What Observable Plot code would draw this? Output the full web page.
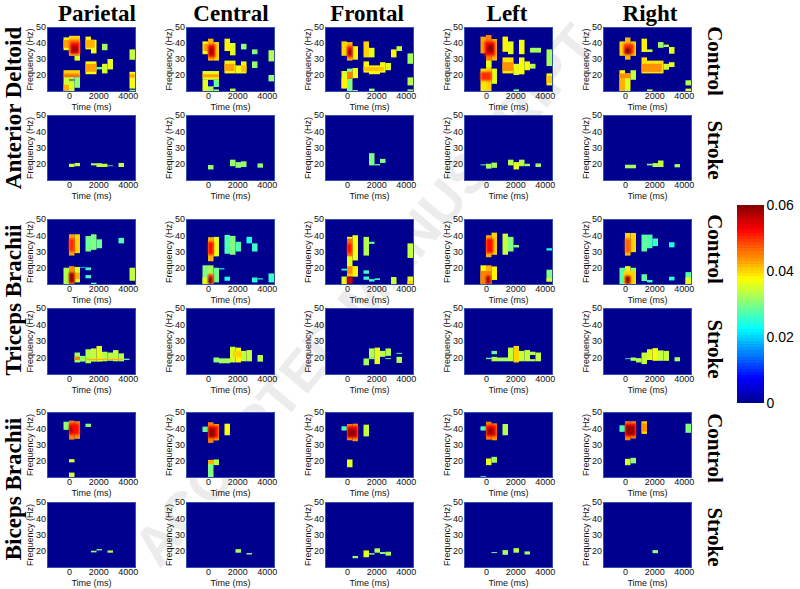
<!DOCTYPE html>
<html><head><meta charset="utf-8">
<script src="https://cdn.jsdelivr.net/npm/d3@7"></script>
<script src="https://cdn.jsdelivr.net/npm/@observablehq/plot@0.6"></script>
<style>
html,body{margin:0;padding:0;background:#fff;overflow:hidden}
#c{position:relative;width:800px;height:589px;overflow:hidden}
#c>svg,#c>div{position:absolute}
.t{font-family:"Liberation Serif";font-weight:bold;color:#000;white-space:nowrap;line-height:1}
.wm{font-family:"Liberation Sans";font-weight:bold;color:#ececec;white-space:nowrap;font-size:55px}
</style></head><body><div id="c"></div>
<script>
// Each entry: [time start ms, time end ms, freq low Hz, freq high Hz, value]
const columns=["Parietal","Central","Frontal","Left","Right"];
const muscles=["Anterior Deltoid","Triceps Brachii","Biceps Brachii"];
const groups=["Control","Stroke"];
const timeTicks=[0,2000,4000], freqTicks=[20,30,40,50], barTicks=[0,0.02,0.04,0.06];
const jetColors=["#00008f","#0000ff","#00ffff","#ffff00","#ff0000","#800000"];
const jetStops=[0,0.0075,0.0225,0.0375,0.0525,0.06];

const adCtlParietal=[[-375,0,35.5,43.5,.037],[-375,0,37,42,.043],[0,750,32,44.5,.04],[375,750,29,32,.036],[0,750,33,42,.047],[100,700,33,40,.053],[150,600,34,38,.058],
[1125,1500,36,44,.038],[1500,1875,33.5,42,.037],[1125,1750,37,42,.042],[2250,2625,35.5,39.5,.032],[4125,4500,29.5,36,.034],
[1125,1875,20.5,28.5,.037],[1125,1875,22,27,.043],[1875,2250,23.5,25,.028],[2250,2625,21,27,.035],[2625,3000,23.5,30,.036],
[-375,750,19,23,.04],[-375,750,19,20.5,.048],[-375,375,10,19,.035],[375,750,12,19,.031],[-375,0,10,14,.042],[0,375,16.5,17.3,.012],
[4125,4500,11.5,22,.037],[4125,4500,19,20,.05],[4125,4500,10,10.8,.03]];
const adCtlCentral=[[-375,0,33,41,.037],[0,375,29,42.7,.042],[375,750,29,40.6,.04],[-300,0,35,39.5,.043],[0,500,31,39,.053],[100,350,33,37,.059],
[1125,1500,35,42.7,.038],[1500,1875,32.3,40,.036],[2250,2625,36,39.5,.031],[3000,3375,33,36,.03],[4125,4500,28.5,35.5,.033],[3000,3375,24.4,28.5,.031],
[1125,1875,21,29,.038],[1125,1800,22.5,27,.043],[1875,2250,21,26,.037],[2250,2625,21,28.5,.036],[2250,2625,22,26,.041],[4125,4500,16,20,.031],
[-375,750,17,22.5,.036],[-375,750,18.5,20.5,.043],[-375,0,10,17,.036],[375,750,12.5,17,.029],[0,375,10,13,.033],[0,375,13,15.7,.005],[375,750,10,11,.031],[1500,1875,10,11.5,.034]];
const adCtlFrontal=[[-375,0,32,41,.04],[0,375,29,40.6,.042],[375,750,29.6,38,.038],[0,375,31,38,.052],[50,330,32.5,36,.059],
[1125,1500,31,41,.04],[1500,1875,31,37,.036],[3000,3375,31,36,.038],[3375,3750,35,38,.034],[4125,4500,27,33.5,.032],
[1125,1500,21.5,28.5,.038],[1500,2250,20.5,26,.038],[2250,2625,21.5,28,.037],[2625,3000,23,27.5,.036],[1125,2500,22.5,25,.041],
[-375,0,11.5,22.5,.036],[0,375,10,24,.03],[375,750,18,24.4,.037],[0,375,17.5,22,.045],[-375,0,12,18,.038],
[1500,1875,10,11.5,.031],[4125,4500,13.5,18.5,.033],[4125,4500,10,11,.032],[375,750,10,10.6,.03]];
const adCtlLeft=[[-375,0,33.5,44,.043],[0,375,27,45,.045],[375,750,29,42.5,.042],[-100,620,32,41,.052],[100,500,34,39,.059],
[-375,0,10,24,.039],[0,375,10,26,.04],[375,750,14.5,24,.036],[-375,375,16.5,22,.05],[0,375,25,29,.036],
[1125,1500,34.5,44,.038],[1500,1875,33,41,.036],[2250,2625,33,42,.037],[3000,3750,34,37,.032],[4125,4500,25.6,36,.032],[4125,4500,13.5,21,.036],[4125,4500,15,19.5,.041],
[1125,1875,21,31,.039],[1125,1875,22.5,28,.044],[1875,2250,20,27,.036],[2250,2625,20.4,31,.037],[2625,3000,23,28.5,.037],[3000,3375,24,27,.033],[1875,2250,10,11,.03]];
const adCtlRight=[[-375,0,32,41,.04],[0,375,29.6,43.5,.042],[375,750,32,41,.04],[-100,600,33,39.5,.05],[0,375,33,37,.059],
[1125,1500,34.4,42.7,.038],[1500,1875,34.4,36,.034],[2250,2625,37,40.6,.032],[2625,3000,37.5,39,.032],[3000,3375,33.3,37.5,.036],
[1125,1500,21,31,.039],[1500,2625,21,29,.039],[1125,2500,22,27,.044],[2625,3000,23.3,27,.035],[3000,3375,25,28,.036],
[-375,0,10,23,.038],[0,375,10,21,.036],[375,750,17,23,.034],[-375,0,10,20,.042],[-375,375,18,21,.044],
[1500,1875,10,11,.034],[4125,4500,13.5,16.7,.033],[4125,4500,10,11.5,.036]];

const adStrParietal=[[0,375,18,20,.034],[375,750,18.5,20.5,.034],[1500,2250,19,20.3,.033],[1875,2625,18,20,.034],[2625,3000,18.5,19,.028],[3375,3750,18,20.5,.034]];
const adStrCentral=[[0,375,16.5,19.2,.031],[1500,1875,18.5,22.5,.031],[1875,2250,17.5,21,.031],[2250,2625,18,21.5,.031],[3375,3750,17.6,20.2,.031]];
const adStrFrontal=[[1500,1875,19,26.5,.03],[1875,2250,19,19.8,.028],[2250,2625,20.5,23,.03]];
const adStrLeft=[[-375,0,19,19.6,.028],[0,375,17,20,.032],[375,750,17.5,20.7,.032],[1500,1875,19,22.5,.033],[1875,2250,16.5,21,.036],[2250,2625,18.5,22.5,.033],[2625,3000,18.5,20,.031],[3375,3750,18,20.2,.032]];
const adStrRight=[[0,750,17.2,19.4,.032],[1500,1875,19,20,.03],[1875,2250,18,20.4,.033],[2250,2625,18,22,.034],[3375,3750,17.8,19.8,.032]];

const tbCtlParietal=[[0,375,27.5,40.6,.043],[375,750,29,40.6,.04],[0,375,30,38,.05],
[1125,1500,30,39.5,.029],[1500,1875,31,40.6,.03],[1875,2250,32,37.5,.029],[3375,3750,35,38.4,.027],
[-375,0,10,20,.033],[0,375,10,21,.044],[375,750,11,20.5,.036],[375,750,13,17,.042],[0,375,10.5,17,.058],
[750,1125,20,20.5,.02],[1125,1500,18.5,20.2,.026],[1125,1500,13.5,15.5,.026],[1500,1875,10,10.8,.027],[4125,4500,12,20,.034]];
const tbCtlCentral=[[0,375,24,38.8,.042],[375,750,27,39,.036],[0,375,28,36,.052],
[1125,1500,28.6,40.2,.027],[1500,1875,28,39.6,.03],[1875,2250,30,36,.027],[2625,3000,35,39,.024],[3000,3375,30,35,.026],
[-375,0,10,21.5,.03],[0,375,10,21.5,.032],[375,750,11,20,.029],[-375,0,10,14,.036],[0,375,10,16,.05],[0,300,10,14,.059],[750,1125,19,19.7,.024],
[1125,1500,12,14.5,.024],[3000,3375,11,14,.025],[3375,3750,12.8,13.5,.024],[4125,4500,11,16.5,.026]];
const tbCtlFrontal=[[0,375,20,39,.036],[375,750,24.5,40,.037],[0,375,27,38,.046],[0,300,29,35,.052],
[1125,1500,27.5,39,.033],[1500,1875,34.7,36,.028],[4125,4500,26,35,.034],[-375,0,18.3,19.4,.026],
[0,750,14.5,21,.038],[0,375,16,21,.044],[-375,0,10,14.6,.036],[0,375,10,14.6,.055],
[1125,1500,16.3,18.4,.026],[1125,1500,12.6,14.6,.026],[1500,1875,11.5,13,.026],[1875,2250,12.5,13.5,.026],[3000,3375,10,14.3,.034],[4125,4500,10,14.6,.036],[4125,4500,10,12,.04]];
const tbCtlLeft=[[0,375,26.5,40,.042],[375,750,28,41.6,.04],[0,500,29,38,.052],
[1125,1500,28,41,.034],[1500,1875,30,39,.03],[1875,2250,32.5,34,.03],[4125,4500,30.6,32,.024],
[-375,0,10,21.5,.038],[0,375,10,21.5,.042],[375,750,12.5,20.8,.038],[-375,375,10,18,.045],[0,300,10,15,.058],
[4125,4500,11.5,18.8,.03],[4125,4500,11.5,13.5,.036]];
const tbCtlRight=[[0,375,27.5,41.4,.04],[375,750,29.6,41.4,.04],[0,375,29,38,.047],
[1125,1500,30,40.4,.028],[1500,1875,32,40.4,.027],[1875,2250,33.3,38,.026],[3000,3375,32.6,35.7,.024],
[-375,0,10,20,.028],[0,375,10,21,.036],[375,750,10,20,.032],[-100,700,10,18,.04],[0,375,10,15,.058],
[1125,1500,11.8,16,.028],[1500,1875,11,12.5,.026],[3000,3375,12.2,14.5,.025],[4125,4500,10,17.3,.028],[4125,4500,10,14,.036]];

const tbStrParietal=[[375,750,17,23,.032],[375,750,18.5,20.5,.045],[750,1125,17.5,21,.031],[1125,1500,16.5,25,.033],[1500,1875,17.5,25.5,.034],[1875,2250,17.5,27,.036],[2250,2625,17.7,23.5,.033],[2625,3000,18,23,.033],[3000,3375,17.7,24.5,.034],[3375,3750,17.7,22.5,.033],[3750,4125,18.5,19.3,.028],[1125,3700,18.5,19.2,.042]];
const tbStrCentral=[[375,750,17,20,.031],[750,1500,16.5,19.5,.032],[1500,1875,17,26.5,.035],[1875,2250,17,26,.037],[2250,2625,17.7,24,.034],[2625,3000,17.7,24.5,.034],[3375,3750,17.5,21.5,.033],[1700,2300,20,24,.04]];
const tbStrFrontal=[[1125,1500,15.3,19.4,.032],[1500,1875,19.8,25.5,.033],[1500,1875,19,20,.03],[1875,2250,16,26,.036],[2250,2625,20.4,24,.033],[2625,3000,21,25.5,.033],[2625,3000,19,19.6,.028],[3375,3750,16.7,20.4,.033],[3375,3750,22.2,22.8,.028]];
const tbStrLeft=[[0,375,19,19.8,.029],[375,750,22,24,.028],[375,750,17.7,20.4,.033],[750,1500,17.7,20,.032],[1500,1875,17.7,26,.034],[1875,2250,17,27,.04],[2250,2625,17.7,24,.034],[2625,3000,17.7,24.5,.034],[3000,3375,21.5,23.5,.033],[3000,3375,17.7,19,.033],[3375,3750,17.7,23,.034]];
const tbStrRight=[[0,375,19,19.5,.027],[375,750,18,20,.032],[750,1125,17,19.6,.033],[1125,1500,16,23,.034],[1500,1875,18.5,25,.036],[1875,2250,18,25.7,.037],[2250,2625,18,24.3,.034],[2625,3000,18,24,.034],[3375,3750,17.7,20.2,.032]];

const bbCtlParietal=[[-375,0,39,44,.031],[0,375,33,44.7,.045],[375,750,33.5,44.3,.044],[0,700,36,43,.052],[0,200,37,41,.059],[1125,1500,40.8,42.8,.03],[0,375,19,21,.035],[0,375,10,12.7,.035]];
const bbCtlCentral=[[-375,0,37.7,41,.028],[0,375,31,43.7,.045],[375,750,32.5,42.6,.043],[0,700,34,41.5,.052],[50,450,34.5,40,.059],[1125,1500,35.7,42.8,.037],[0,375,10,20.5,.03],[375,750,17.3,20.8,.033],[0,375,18,20.5,.042]];
const bbCtlFrontal=[[-375,0,38.6,41.2,.027],[0,375,32.6,42.6,.044],[375,750,32,42.8,.044],[0,750,34,41.5,.053],[50,600,35,39.5,.059],[1125,1500,35,42.2,.034],[0,375,16,20.8,.036]];
const bbCtlLeft=[[-375,0,38.6,41.2,.027],[0,375,33,44,.045],[375,750,32.6,43,.044],[0,700,35,42,.053],[100,500,36,40,.059],[1125,1500,35.7,42.6,.033],[0,375,17.3,21.4,.036],[375,750,18.8,22.4,.032],[-375,0,10,10.5,.026]];
const bbCtlRight=[[-375,0,37.8,41.8,.027],[0,375,32.6,44.3,.045],[375,750,33.7,44.3,.044],[0,750,35,43,.053],[50,650,36,41.5,.059],[1125,1500,36.5,44.3,.04],[1125,1500,38,43,.044],[4125,4500,37.2,42.8,.03],[0,375,17.3,21.2,.035],[375,750,18.4,21.8,.031]];

const bbStrParietal=[[1500,1875,19,20,.031],[1875,2250,20.2,21,.03],[2625,3000,18.8,20.2,.032]];
const bbStrCentral=[[1875,2250,18.8,21,.032],[2625,3000,17.7,18.6,.029]];
const bbStrFrontal=[[375,750,15.4,16.8,.031],[1125,1500,16,20.2,.036],[1500,1875,17.6,18.5,.03],[1875,2250,18.8,21.5,.033],[2250,2625,18,19.2,.03],[2625,3000,17,19.4,.033]];
const bbStrLeft=[[375,750,18.6,19.2,.028],[1125,1500,17.5,20.4,.032],[1875,2250,18.8,21.6,.033],[2625,3000,17.7,19.6,.032]];
const bbStrRight=[[1875,2250,18.5,20.4,.031]];

const panels=[
 [adCtlParietal,adCtlCentral,adCtlFrontal,adCtlLeft,adCtlRight],
 [adStrParietal,adStrCentral,adStrFrontal,adStrLeft,adStrRight],
 [tbCtlParietal,tbCtlCentral,tbCtlFrontal,tbCtlLeft,tbCtlRight],
 [tbStrParietal,tbStrCentral,tbStrFrontal,tbStrLeft,tbStrRight],
 [bbCtlParietal,bbCtlCentral,bbCtlFrontal,bbCtlLeft,bbCtlRight],
 [bbStrParietal,bbStrCentral,bbStrFrontal,bbStrLeft,bbStrRight]];

const colorOpts={type:"linear",domain:jetStops,range:jetColors,interpolate:"rgb",clamp:true};
const root=document.getElementById("c");
function place(el,l,t){el.style.left=l+"px";el.style.top=t+"px";root.appendChild(el);return el;}
function label(text,cx,cy,size,rot,cls){
  const d=document.createElement("div");d.className=cls||"t";d.textContent=text;d.style.fontSize=size+"px";
  d.style.left=cx+"px";d.style.top=cy+"px";
  d.style.transform=`translate(-50%,-50%)`+(rot?` rotate(${rot}deg)`:"");root.appendChild(d);
}
// watermark behind the panels
label("ACCEPTED MANUSCRIPT",365,295,55,-50,"wm");

const colX=[47,186,325,464,603], rowY=[27,115,219,308,412,502], rowH=[64,65,65,66,65,65];
const PW=88, ML=47, MR=14, MT=8, MB=30;
const rectOpts={x1:d=>d[0],x2:d=>d[1],y1:d=>d[2],y2:d=>d[3],fill:d=>d[4]};
panels.forEach((row,r)=>row.forEach((cells,c)=>{
  const svg=Plot.plot({
    width:ML+PW+MR,height:MT+rowH[r]+MB,marginLeft:ML,marginRight:MR,marginTop:MT,marginBottom:MB,
    style:{background:"transparent",fontFamily:"Liberation Sans",overflow:"visible",color:"#111"},
    x:{domain:[-1500,4500]},y:{domain:[10,50]},color:colorOpts,
    marks:[
      Plot.rect([[-1500,4500,10,50,0]],rectOpts),
      Plot.rect(cells.filter(d=>d[4]<.047),{...rectOpts,imageFilter:"blur(0.55px)",clip:true}),
      Plot.rect(cells.filter(d=>d[4]>=.047),{...rectOpts,imageFilter:"blur(1.3px)",clip:true}),
      Plot.frame({stroke:"#3550b0",strokeWidth:1}),
      Plot.axisX({ticks:timeTicks,tickSize:0,tickPadding:1,tickFormat:"d",fontSize:9,label:"Time (ms)",labelAnchor:"center",labelArrow:"none",labelOffset:18}),
      Plot.axisY({ticks:freqTicks,tickSize:0,tickPadding:1.5,fontSize:9,label:"Frequency (Hz)",labelAnchor:"center",labelArrow:"none",labelOffset:21})
    ]});
  place(svg,colX[c]-ML,rowY[r]-MT);
}));
// titles
const titleX=[97,231,367,507,650];
columns.forEach((t,i)=>label(t,titleX[i],13,23));
[108,300,489].forEach((y,i)=>label(muscles[i],13,y,23,-90));
[[61,150],[249,349],[448,537]].forEach(p=>{label(groups[0],714,p[0],21,90);label(groups[1],714,p[1],21,90);});

// colour bar
const bar=Plot.plot({
  width:64,height:198+4,marginLeft:1,marginRight:36,marginTop:2,marginBottom:2,
  style:{background:"transparent",fontFamily:"Liberation Sans",overflow:"visible",color:"#000"},
  x:{axis:null,domain:[0,1]},y:{domain:[0,0.06]},color:colorOpts,
  marks:[
    Plot.rect(d3.range(64),{x1:0,x2:1,y1:i=>i/64*0.06,y2:i=>(i+1)/64*0.06,fill:i=>(i+0.5)/64*0.06,shapeRendering:"crispEdges"}),
    Plot.axisY({anchor:"right",ticks:barTicks,tickSize:0,tickPadding:2,fontSize:14,tickFormat:d=>d===0?"0":d.toFixed(2),label:null})
  ]});
place(bar,736,203);
</script></body></html>
